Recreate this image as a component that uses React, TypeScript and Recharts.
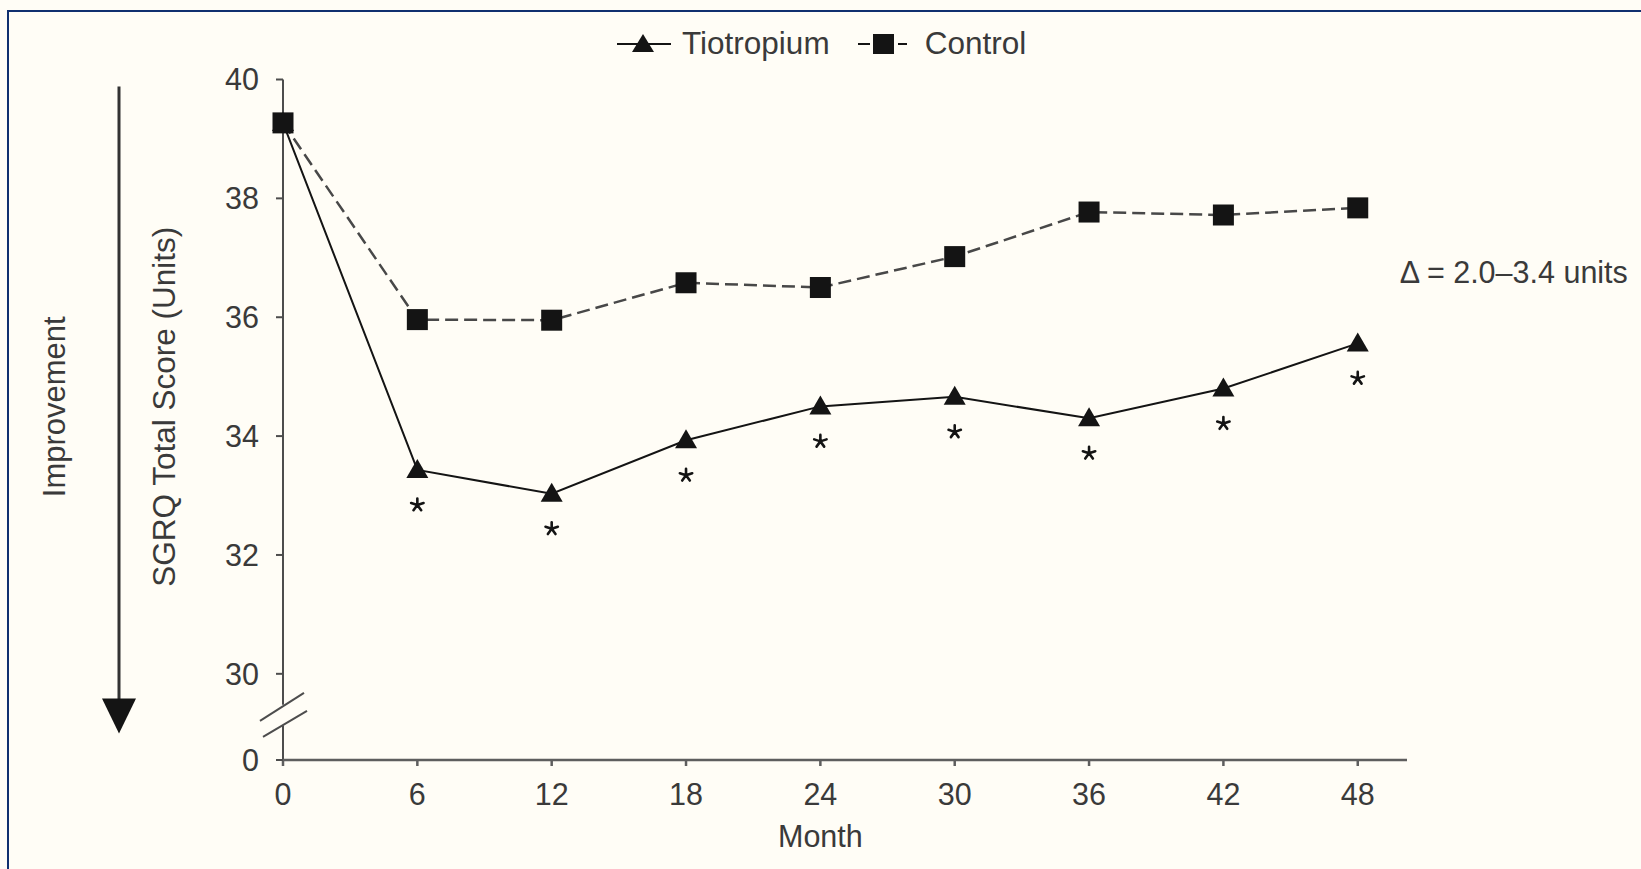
import {
  LineChart,
  Line,
  XAxis,
  YAxis,
  Legend,
  LabelList,
  ReferenceLine,
  ReferenceDot,
} from "recharts";

const MONTHS = [0, 6, 12, 18, 24, 30, 36, 42, 48];
const TIOTROPIUM = [39.27, 33.43, 33.03, 33.93, 34.5, 34.66, 34.3, 34.8, 35.56];
const CONTROL = [39.27, 35.96, 35.95, 36.58, 36.5, 37.02, 37.77, 37.72, 37.84];
// months where tiotropium differs significantly from control
const SIGNIFICANT = [6, 12, 18, 24, 30, 36, 42, 48];

const Y_TICKS = [30, 32, 34, 36, 38, 40];
// the y axis is broken below 30: this stub value is labelled "0"
const Y_FLOOR = 28.55;
const BREAK_TOP = 29.48;
const BREAK_MID = 29.31;
const BREAK_BOTTOM = 29.13;
const X_TICKS = [0, 6, 12, 18, 24, 30, 36, 42, 48];
const X_MAX = 50.2;

const DELTA_LABEL = "Δ = 2.0–3.4 units";
const DELTA_Y = 36.76;

const data = MONTHS.map((month, i) => ({
  month,
  tiotropium: TIOTROPIUM[i],
  control: CONTROL[i],
}));

const BG = "#fffdf6";
const INK = "#141414";
const TEXT = "#3a3a3a";
const AXIS = "#4d4d4d";
const FONT = '"Liberation Sans", Arial, Helvetica, sans-serif';
const FS = 30.5;

const TriangleDot = (props: any) => {
  const { cx, cy, index } = props;
  if (cx == null || cy == null) return <g key={`t-${index}`} />;
  return (
    <path
      key={`t-${index}`}
      d={`M${cx},${cy - 11} L${cx + 11},${cy + 8} L${cx - 11},${cy + 8} Z`}
      fill={INK}
    />
  );
};

const SquareDot = (props: any) => {
  const { cx, cy, index } = props;
  if (cx == null || cy == null) return <g key={`s-${index}`} />;
  return <rect key={`s-${index}`} x={cx - 10.5} y={cy - 10.5} width={21} height={21} fill={INK} />;
};

// five-armed asterisk under each significant time point
const Star = (props: any) => {
  const { x, y, index } = props;
  if (!SIGNIFICANT.includes(MONTHS[index])) return null;
  const cy = y + 35;
  const arms = [0, 1, 2, 3, 4].map((k) => {
    const a = (-90 + k * 72) * (Math.PI / 180);
    return `M${x},${cy} L${x + 6.5 * Math.cos(a)},${cy + 6.5 * Math.sin(a)}`;
  });
  return <path d={arms.join(" ")} stroke={INK} strokeWidth={2.6} strokeLinecap="round" fill="none" />;
};

const AxisBreak = (props: any) => {
  const { x1, y1 } = props;
  return (
    <g stroke={AXIS} strokeWidth={2}>
      <line x1={x1 - 23} y1={y1 + 6} x2={x1 + 21} y2={y1 - 22} />
      <line x1={x1 - 20} y1={y1 + 22} x2={x1 + 24} y2={y1 - 4} />
    </g>
  );
};

// y title plus the "Improvement" arrow to its left
const YTitle = (props: any) => {
  const vb = props.viewBox || { x: 0, y: 79.5, width: 283, height: 680.5 };
  const cy = vb.y + vb.height / 2 - 13;
  return (
    <g fontFamily={FONT} fill={TEXT}>
      <text
        x={vb.x + 164}
        y={cy}
        fontSize={31.5}
        textAnchor="middle"
        dominantBaseline="central"
        transform={`rotate(-90 ${vb.x + 164} ${cy})`}
      >
        SGRQ Total Score (Units)
      </text>
      <text
        x={vb.x + 54}
        y={cy}
        fontSize={31}
        textAnchor="middle"
        dominantBaseline="central"
        transform={`rotate(-90 ${vb.x + 54} ${cy})`}
      >
        Improvement
      </text>
      <line x1={vb.x + 119} y1={vb.y + 7} x2={vb.x + 119} y2={vb.y + 622} stroke="#333" strokeWidth={3} />
      <path
        d={`M${vb.x + 102},${vb.y + 619} L${vb.x + 136},${vb.y + 619} L${vb.x + 119},${vb.y + 654} Z`}
        fill={INK}
      />
    </g>
  );
};

const XTitle = (props: any) => {
  const vb = props.viewBox || { x: 283, y: 760, width: 1124, height: 109 };
  const midX = vb.x + (vb.width * X_TICKS[X_TICKS.length - 1]) / (2 * X_MAX);
  return (
    <text x={midX} y={vb.y + vb.height - 22} textAnchor="middle" fontFamily={FONT} fontSize={FS} fill={TEXT}>
      Month
    </text>
  );
};

const SERIES_ORDER = ["tiotropium", "control"];

const LegendContent = (props: any) => {
  const items = [...(props.payload || [])].sort(
    (a: any, b: any) => SERIES_ORDER.indexOf(a.dataKey) - SERIES_ORDER.indexOf(b.dataKey)
  );
  return (
    <div style={{ display: "flex", alignItems: "center", fontFamily: FONT, fontSize: 31.5, color: TEXT, whiteSpace: "nowrap" }}>
      {items.map((item: any) =>
        item.dataKey === "tiotropium" ? (
          <div key="t" style={{ display: "flex", alignItems: "center", marginRight: 28 }}>
            <svg width={54} height={24} style={{ marginRight: 11 }}>
              <line x1={0} y1={12} x2={54} y2={12} stroke={INK} strokeWidth={2} />
              <path d="M26,2 L37,20 L15,20 Z" fill={INK} />
            </svg>
            <span>{item.value}</span>
          </div>
        ) : (
          <div key="c" style={{ display: "flex", alignItems: "center" }}>
            <svg width={51} height={24} style={{ marginRight: 16 }}>
              <line x1={0} y1={12} x2={12} y2={12} stroke={INK} strokeWidth={2} />
              <rect x={15} y={2} width={21} height={20} fill={INK} />
              <line x1={40} y1={12} x2={49} y2={12} stroke={INK} strokeWidth={2} />
            </svg>
            <span>{item.value}</span>
          </div>
        )
      )}
    </div>
  );
};

export default function App() {
  return (
    <div
      style={{
        position: "fixed",
        left: 0,
        top: 0,
        width: 1641,
        height: 869,
        background: BG,
        overflow: "hidden",
        fontFamily: FONT,
      }}
    >
      <div
        style={{
          position: "absolute",
          left: 7,
          top: 10,
          width: 1700,
          height: 920,
          border: "2.5px solid #10306f",
          pointerEvents: "none",
        }}
      />
      <LineChart width={1641} height={869} data={data} margin={{ top: 79.5, right: 234, bottom: 0, left: 0 }}>
        <XAxis
          dataKey="month"
          type="number"
          domain={[0, X_MAX]}
          ticks={X_TICKS}
          height={109}
          stroke="#5e5e5e"
          strokeWidth={2.5}
          tickSize={6}
          tickMargin={17}
          tick={{ fill: TEXT, fontSize: FS, fontFamily: FONT }}
          label={{ content: XTitle }}
        />
        <YAxis
          type="number"
          domain={[Y_FLOOR, 40]}
          ticks={[Y_FLOOR, ...Y_TICKS]}
          tickFormatter={(v: number) => (v === Y_FLOOR ? "0" : String(v))}
          width={283}
          axisLine={false}
          tickLine={{ stroke: AXIS, strokeWidth: 2 }}
          tickSize={7}
          tickMargin={17}
          tick={{ fill: TEXT, fontSize: FS, fontFamily: FONT }}
          label={{ content: YTitle }}
        />
        <ReferenceLine
          segment={[{ x: 0, y: 40 }, { x: 0, y: BREAK_TOP }]}
          stroke={AXIS}
          strokeWidth={2}
          ifOverflow="visible"
        />
        <ReferenceLine
          segment={[{ x: 0, y: BREAK_BOTTOM }, { x: 0, y: Y_FLOOR }]}
          stroke={AXIS}
          strokeWidth={2}
          ifOverflow="visible"
        />
        <ReferenceLine y={BREAK_MID} ifOverflow="visible" shape={AxisBreak} />
        <Legend
          layout="horizontal"
          verticalAlign="middle"
          align="center"
          wrapperStyle={{ top: 25, left: 617, width: "auto" }}
          content={LegendContent}
        />
        <Line
          dataKey="tiotropium"
          name="Tiotropium"
          type="linear"
          stroke={INK}
          strokeWidth={2}
          dot={TriangleDot}
          activeDot={false}
          isAnimationActive={false}
        >
          <LabelList dataKey="tiotropium" content={Star} />
        </Line>
        <Line
          dataKey="control"
          name="Control"
          type="linear"
          stroke="#484848"
          strokeWidth={2.5}
          strokeDasharray="13 6"
          dot={SquareDot}
          activeDot={false}
          isAnimationActive={false}
        />
        <ReferenceDot
          x={48}
          y={DELTA_Y}
          r={0}
          ifOverflow="visible"
          label={{ value: DELTA_LABEL, position: "right", offset: 42, fill: TEXT, fontSize: FS, fontFamily: FONT }}
        />
      </LineChart>
    </div>
  );
}
